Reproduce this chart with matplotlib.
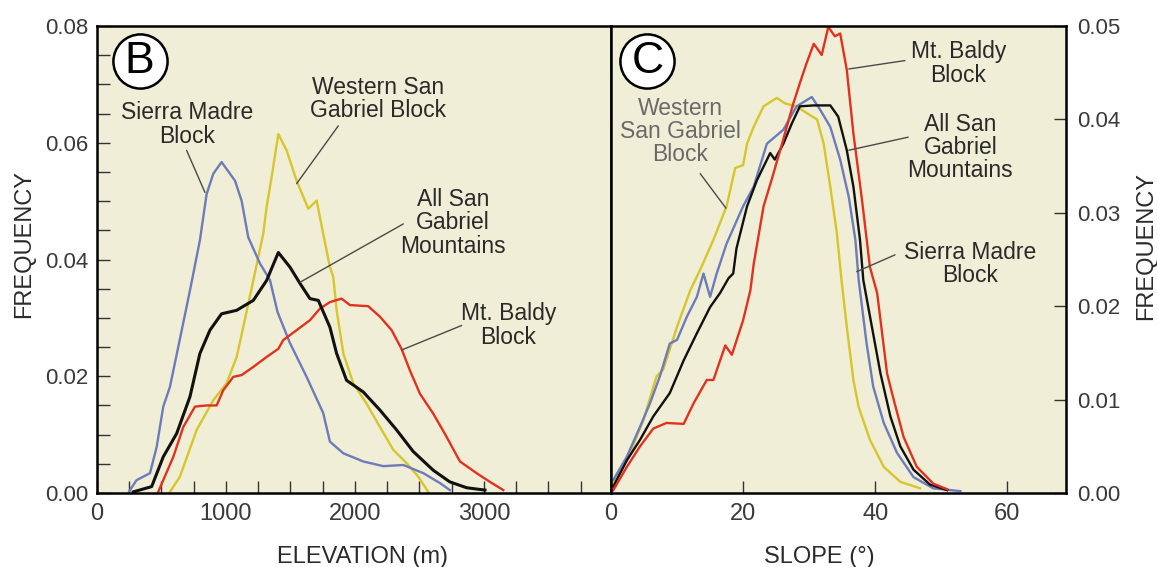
import matplotlib
matplotlib.use("Agg")
import matplotlib.pyplot as plt
from matplotlib.ticker import MultipleLocator, FixedLocator

plt.rcParams['font.family'] = ['Liberation Sans', 'DejaVu Sans']

# ---- panel B: elevation histograms ----
elev_sierra = [250, 307, 411, 463, 514, 566, 630, 721, 798, 850, 902, 966, 1070, 1121, 1173, 1264,
               1341, 1400, 1496, 1625, 1754, 1806, 1910, 2065, 2220, 2375, 2530, 2659, 2736]
freq_sierra = [0.0003, 0.0022, 0.0034, 0.0079, 0.0148, 0.0182, 0.025, 0.0347, 0.0433, 0.0512, 0.0547,
               0.0567, 0.0535, 0.0501, 0.0438, 0.0393, 0.0365, 0.031, 0.0257, 0.0199, 0.0137, 0.0088,
               0.0068, 0.0054, 0.0046, 0.0048, 0.0034, 0.0017, 0.0005]

elev_all = [282, 424, 514, 618, 721, 798, 876, 966, 1083, 1212, 1315, 1406, 1496, 1574, 1651,
            1716, 1806, 1858, 1935, 2065, 2194, 2323, 2452, 2607, 2736, 2866, 3008]
freq_all = [0.0002, 0.0011, 0.0062, 0.0102, 0.0165, 0.0239, 0.0279, 0.0307, 0.0313, 0.033, 0.0364,
            0.0412, 0.0387, 0.0359, 0.0333, 0.033, 0.0284, 0.0239, 0.0193, 0.0173, 0.0142,
            0.0108, 0.0071, 0.0039, 0.0019, 0.0009, 0.0005]

elev_western = [566, 643, 773, 902, 1005, 1083, 1134, 1212, 1289, 1315, 1354, 1406, 1470, 1548, 1638,
                1703, 1754, 1806, 1832, 1858, 1910, 1987, 2090, 2194, 2297, 2401, 2491, 2568]
freq_western = [0.0002, 0.0028, 0.0108, 0.0159, 0.0188, 0.0233, 0.0284, 0.0364, 0.0444, 0.049, 0.0541,
                0.0615, 0.0587, 0.0535, 0.0487, 0.0501, 0.0444, 0.0387, 0.037, 0.0313, 0.0239, 0.0188,
                0.0153, 0.0113, 0.0074, 0.0051, 0.0028, 0.0002]

elev_baldy = [475, 592, 669, 760, 850, 928, 979, 1057, 1121, 1212, 1315, 1406, 1444, 1548, 1651, 1729,
              1806, 1896, 1961, 2103, 2194, 2284, 2361, 2426, 2504, 2607, 2711, 2814, 2943, 3047, 3150]
freq_baldy = [0.0002, 0.0062, 0.0113, 0.0148, 0.015, 0.015, 0.0176, 0.0199, 0.0202, 0.0216, 0.0233,
              0.0247, 0.0262, 0.0279, 0.0296, 0.0316, 0.0327, 0.0333, 0.0322, 0.032, 0.0302, 0.0279,
              0.0247, 0.021, 0.017, 0.0136, 0.0096, 0.0054, 0.0034, 0.0019, 0.0005]

# ---- panel C: slope histograms ----
slope_baldy = [0.35, 2.4, 4.4, 6.4, 8.4, 11.0, 12.5, 14.5, 15.5, 17.3, 18.3, 20.0, 21.1, 21.6, 23.1,
               24.3, 25.9, 27.6, 28.6, 29.6, 30.7, 31.9, 32.9, 33.9, 34.7, 35.7, 36.7, 38.0, 39.2,
               40.3, 41.8, 42.8, 44.3, 46.3, 48.8, 50.9]
sfreq_baldy = [0.0003, 0.0028, 0.005, 0.0069, 0.0075, 0.0074, 0.0096, 0.0121, 0.0121, 0.0158, 0.0148,
               0.0185, 0.0217, 0.0245, 0.0307, 0.0335, 0.0374, 0.0417, 0.0439, 0.046, 0.0481, 0.0469,
               0.0499, 0.0489, 0.0492, 0.0453, 0.0385, 0.0314, 0.0242, 0.0214, 0.0128, 0.01, 0.006,
               0.0028, 0.001, 0.0004]

slope_all = [0.35, 2.4, 4.4, 6.4, 8.9, 11.0, 13.0, 15.0, 16.5, 17.8, 18.5, 19.0, 20.6, 22.1, 24.1,
             24.8, 26.1, 27.4, 28.6, 30.7, 33.2, 34.4, 35.7, 36.7, 37.7, 38.2, 39.5, 40.8, 42.3,
             43.8, 45.8, 48.3, 50.9]
sfreq_all = [0.0007, 0.0035, 0.0057, 0.0082, 0.0107, 0.0142, 0.0171, 0.0199, 0.0214, 0.023, 0.0235,
             0.0262, 0.0307, 0.0335, 0.0364, 0.0357, 0.0374, 0.0396, 0.0414, 0.0415, 0.0415, 0.0403,
             0.0367, 0.0328, 0.0271, 0.0228, 0.0178, 0.0128, 0.0082, 0.005, 0.0025, 0.0009, 0.0003]

slope_sierra = [0.35, 2.4, 4.4, 5.9, 7.4, 8.9, 10.0, 11.5, 13.0, 14.0, 15.0, 16.0, 17.5, 20.0, 21.6,
                23.6, 26.1, 28.1, 30.4, 31.7, 33.2, 34.7, 36.0, 37.0, 37.5, 38.7, 39.7, 41.3, 43.3,
                45.8, 48.8, 52.9]
sfreq_sierra = [0.0014, 0.0039, 0.0071, 0.0096, 0.0125, 0.016, 0.0164, 0.0189, 0.021, 0.0235, 0.021,
                0.0235, 0.0267, 0.0307, 0.0328, 0.0374, 0.0389, 0.0414, 0.0424, 0.041, 0.0392, 0.0357,
                0.0317, 0.0271, 0.0228, 0.016, 0.0114, 0.0075, 0.0043, 0.0017, 0.0005, 0.0002]

slope_western = [0.35, 2.9, 4.9, 6.9, 7.9, 10.0, 12.0, 13.5, 15.5, 17.5, 18.8, 20.0, 20.6, 21.6, 23.1,
                 25.1, 26.4, 28.1, 29.6, 31.2, 32.2, 33.2, 34.2, 34.9, 35.7, 36.7, 37.5, 39.2, 41.3,
                 43.8, 46.8]
sfreq_western = [0.001, 0.0043, 0.0078, 0.0125, 0.0132, 0.0178, 0.0217, 0.0239, 0.0271, 0.0307, 0.0348,
                 0.0351, 0.0374, 0.0392, 0.0414, 0.0423, 0.0417, 0.0414, 0.0407, 0.04, 0.0374, 0.0328,
                 0.0278, 0.0228, 0.0178, 0.0121, 0.0092, 0.0057, 0.0028, 0.0012, 0.0005]

BG = '#f0eed6'
BLUE = '#6d7bbb'
YELLOW = '#d6c62c'
RED = '#e2321f'
BLACK = '#111111'
LEAD = '#4a4a4a'
TXT = '#2a2a2a'
TICKTXT = '#3a3a3a'

fig = plt.figure(figsize=(11.57, 5.67), dpi=100)
ax1 = fig.add_axes([0.0838, 0.1305, 0.4443, 0.8236])
ax2 = fig.add_axes([0.5281, 0.1305, 0.3933, 0.8236])

for ax in (ax1, ax2):
    ax.set_facecolor(BG)
    for s in ax.spines.values():
        s.set_linewidth(1.8)
        s.set_color('black')

# panel B
ax1.plot(elev_western, freq_western, color=YELLOW, lw=1.7)
ax1.plot(elev_sierra, freq_sierra, color=BLUE, lw=1.7)
ax1.plot(elev_baldy, freq_baldy, color=RED, lw=1.7)
ax1.plot(elev_all, freq_all, color=BLACK, lw=2.2)
ax1.set_xlim(0, 3985)
ax1.set_ylim(0, 0.08)
ax1.xaxis.set_major_locator(FixedLocator([0, 1000, 2000, 3000]))
ax1.xaxis.set_minor_locator(MultipleLocator(250))
ax1.yaxis.set_major_locator(MultipleLocator(0.02))
ax1.yaxis.set_minor_locator(MultipleLocator(0.005))
ax1.yaxis.set_major_formatter(plt.FormatStrFormatter('%.2f'))
ax1.tick_params(which='both', direction='in', length=9, width=1, colors='#333333',
                labelcolor=TICKTXT, top=False, right=False)
ax1.tick_params(axis='x', labelsize=17, pad=7)
ax1.tick_params(axis='y', labelsize=16, pad=6)

# panel C
ax2.plot(slope_western, sfreq_western, color=YELLOW, lw=1.7)
ax2.plot(slope_sierra, sfreq_sierra, color=BLUE, lw=1.7)
ax2.plot(slope_all, sfreq_all, color=BLACK, lw=1.7)
ax2.plot(slope_baldy, sfreq_baldy, color=RED, lw=1.7)
ax2.set_xlim(0, 68.9)
ax2.set_ylim(0, 0.05)
ax2.xaxis.set_major_locator(FixedLocator([0, 20, 40, 60]))
ax2.yaxis.set_major_locator(MultipleLocator(0.01))
ax2.yaxis.set_major_formatter(plt.FormatStrFormatter('%.2f'))
ax2.yaxis.tick_right()
ax2.tick_params(which='both', direction='in', length=9, width=1, colors='#333333',
                labelcolor=TICKTXT, left=False, top=False)
ax2.tick_params(axis='x', labelsize=17, pad=7)
ax2.tick_params(axis='y', labelsize=16, pad=8)

# circled panel letters
for ax, letter, xc in ((ax1, 'B', 0.083), (ax2, 'C', 0.08)):
    ax.plot([xc], [0.926], transform=ax.transAxes, marker='o', ms=39, mfc='white',
            mec='black', mew=1.8, clip_on=False, zorder=5)
    ax.text(xc, 0.924, letter, transform=ax.transAxes, ha='center', va='center',
            fontsize=32, color='black', zorder=6)

lab = dict(fontsize=16.5, color=TXT, ha='center', va='center', linespacing=1.02)
lead = dict(arrowstyle='-', color=LEAD, lw=1.0, shrinkA=0, shrinkB=0)

# panel B annotations
ax1.text(700, 0.0631, 'Sierra Madre\nBlock', **lab)
ax1.annotate('', xy=(837, 0.0515), xytext=(695, 0.0587), arrowprops=lead)
ax1.text(2178, 0.0675, 'Western San\nGabriel Block', **lab)
ax1.annotate('', xy=(1548, 0.053), xytext=(1871, 0.0629), arrowprops=lead)
ax1.text(2762, 0.0463, 'All San\nGabriel\nMountains', **lab)
ax1.annotate('', xy=(1574, 0.0361), xytext=(2375, 0.0461), arrowprops=lead)
ax1.text(3189, 0.0287, 'Mt. Baldy\nBlock', **lab)
ax1.annotate('', xy=(2362, 0.0245), xytext=(2827, 0.0287), arrowprops=lead)

# panel C annotations
ax2.text(52.6, 0.046, 'Mt. Baldy\nBlock', **lab)
ax2.annotate('', xy=(36.0, 0.0454), xytext=(44.5, 0.0463), arrowprops=lead)
ax2.text(52.9, 0.037, 'All San\nGabriel\nMountains', **lab)
ax2.annotate('', xy=(36.0, 0.0367), xytext=(45.0, 0.0381), arrowprops=lead)
ax2.text(10.5, 0.0387, 'Western\nSan Gabriel\nBlock', **dict(lab, color='#6a6a6a'))
ax2.annotate('', xy=(17.4, 0.0305), xytext=(13.5, 0.0342), arrowprops=lead)
ax2.text(54.4, 0.0245, 'Sierra Madre\nBlock', **lab)
ax2.annotate('', xy=(37.2, 0.0237), xytext=(43.0, 0.0255), arrowprops=lead)

# axis titles
fig.text(362 / 1157, 1 - 557 / 567, 'ELEVATION (m)', fontsize=17, color=TXT, ha='center', va='center')
fig.text(819 / 1157, 1 - 557 / 567, 'SLOPE (°)', fontsize=17, color=TXT, ha='center', va='center')
fig.text(24 / 1157, 1 - 244 / 567, 'FREQUENCY', fontsize=17, color=TXT, ha='center', va='center',
         rotation=90)
fig.text(1146 / 1157, 1 - 246 / 567, 'FREQUENCY', fontsize=17, color=TXT, ha='center', va='center',
         rotation=90)

fig.savefig('out.png', dpi=100, facecolor='white')
